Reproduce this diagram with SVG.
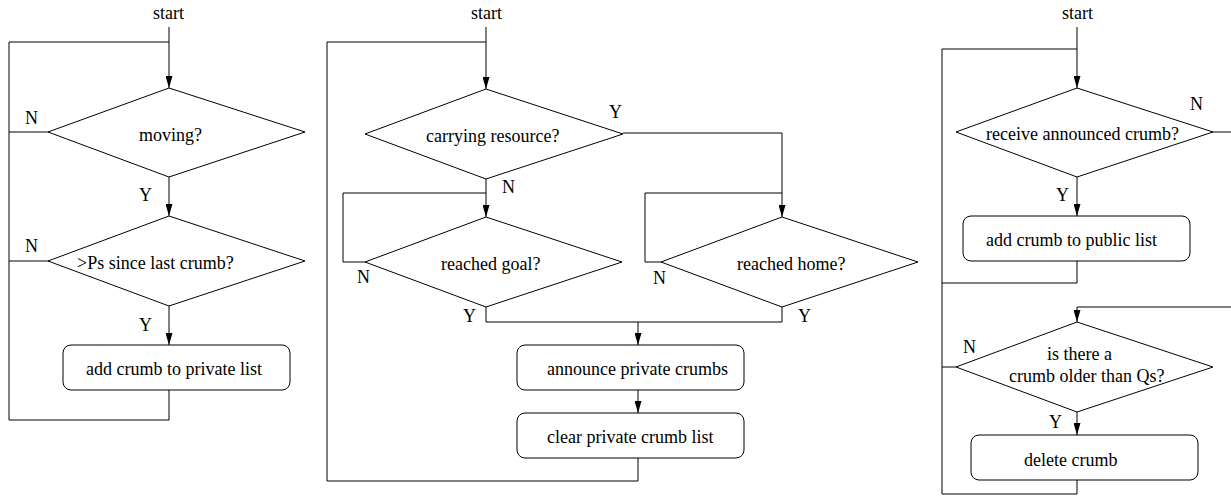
<svg xmlns="http://www.w3.org/2000/svg" width="1231" height="496" viewBox="0 0 1231 496">
  <style>
    text { font-family: "Liberation Serif", "Times New Roman", serif; font-size: 18px; fill: #000; }
    .shape { fill: #fff; stroke: #000; stroke-width: 1; }
    .wire { fill: none; stroke: #000; stroke-width: 1; }
    .arrow { fill: none; stroke: #000; stroke-width: 1; marker-end: url(#head); }
  </style>
  <defs>
    <marker id="head" viewBox="0 0 12 7" refX="12" refY="3.5" markerWidth="12" markerHeight="7" markerUnits="userSpaceOnUse" orient="auto">
      <path d="M0,0 L12,3.5 L0,7 z" fill="#000"/>
    </marker>
  </defs>

  <rect width="1231" height="496" fill="#fff"/>

  <!-- connectors -->
  <g id="connectors">
    <!-- chart 1: private crumb recording -->
    <path class="arrow" d="M169,27 V88"/>
    <path class="wire" d="M169,42 H9 V420 H169 V390"/>
    <path class="wire" d="M9,132 H49"/>
    <path class="wire" d="M9,261 H49"/>
    <path class="arrow" d="M169,177 V216"/>
    <path class="arrow" d="M169,306 V345"/>

    <!-- chart 2: announcing -->
    <path class="arrow" d="M486,27 V89"/>
    <path class="wire" d="M486,42 H327 V481 H638 V458"/>
    <path class="arrow" d="M486,179 V217"/>
    <path class="arrow" d="M623,133 H782 V217"/>
    <path class="wire" d="M486,193 H343 V262 H365"/>
    <path class="wire" d="M782,193 H645 V262 H661"/>
    <path class="wire" d="M486,307 V322 H782 V307"/>
    <path class="arrow" d="M638,322 V345"/>
    <path class="arrow" d="M638,390 V413"/>

    <!-- chart 3: public list maintenance -->
    <path class="arrow" d="M1077,27 V88"/>
    <path class="wire" d="M1077,49 H942 V494 H1077 V480"/>
    <path class="wire" d="M1213,132 H1231"/>
    <path class="arrow" d="M1077,177 V216"/>
    <path class="wire" d="M1077,261 V283 H942"/>
    <path class="arrow" d="M1231,307 H1077 V322"/>
    <path class="wire" d="M942,367 H956"/>
    <path class="arrow" d="M1077,412 V435"/>
  </g>

  <!-- chart 1 nodes -->
  <g id="start1"><text x="153" y="19">start</text></g>
  <g id="moving">
    <polygon class="shape" points="169,88 305,132 169,177 48,132"/>
    <text x="139" y="141">moving?</text>
    <text x="25" y="124">N</text>
    <text x="139" y="201">Y</text>
  </g>
  <g id="since-last">
    <polygon class="shape" points="169,216 305,261 169,306 48,261"/>
    <text x="77" y="269">&gt;Ps since last crumb?</text>
    <text x="25" y="252">N</text>
    <text x="139" y="331">Y</text>
  </g>
  <g id="add-private">
    <rect class="shape" x="63" y="345" width="227" height="45" rx="8"/>
    <text x="86" y="375">add crumb to private list</text>
  </g>

  <!-- chart 2 nodes -->
  <g id="start2"><text x="471" y="19">start</text></g>
  <g id="carrying">
    <polygon class="shape" points="486,89 623,134 486,179 365,134"/>
    <text x="426" y="142">carrying resource?</text>
    <text x="609" y="118">Y</text>
    <text x="502" y="193">N</text>
  </g>
  <g id="reached-goal">
    <polygon class="shape" points="486,217 622,262 486,307 365,262"/>
    <text x="441" y="270">reached goal?</text>
    <text x="357" y="283">N</text>
    <text x="463" y="322">Y</text>
  </g>
  <g id="reached-home">
    <polygon class="shape" points="782,217 918,262 782,307 661,262"/>
    <text x="737" y="270">reached home?</text>
    <text x="653" y="284">N</text>
    <text x="798" y="322">Y</text>
  </g>
  <g id="announce">
    <rect class="shape" x="517" y="345" width="227" height="45" rx="8"/>
    <text x="547" y="375">announce private crumbs</text>
  </g>
  <g id="clear-private">
    <rect class="shape" x="517" y="413" width="227" height="45" rx="8"/>
    <text x="547" y="443">clear private crumb list</text>
  </g>

  <!-- chart 3 nodes -->
  <g id="start3"><text x="1062" y="19">start</text></g>
  <g id="receive">
    <polygon class="shape" points="1077,88 1213,132 1077,177 956,132"/>
    <text x="986" y="140">receive announced crumb?</text>
    <text x="1190" y="110">N</text>
    <text x="1056" y="201">Y</text>
  </g>
  <g id="add-public">
    <rect class="shape" x="963" y="216" width="227" height="45" rx="8"/>
    <text x="986" y="246">add crumb to public list</text>
  </g>
  <g id="older">
    <polygon class="shape" points="1077,322 1213,367 1077,412 956,367"/>
    <text x="1047" y="360">is there a</text>
    <text x="1009" y="382">crumb older than Qs?</text>
    <text x="963" y="353">N</text>
    <text x="1049" y="428">Y</text>
  </g>
  <g id="delete">
    <rect class="shape" x="971" y="435" width="227" height="45" rx="8"/>
    <text x="1024" y="466">delete crumb</text>
  </g>
</svg>
